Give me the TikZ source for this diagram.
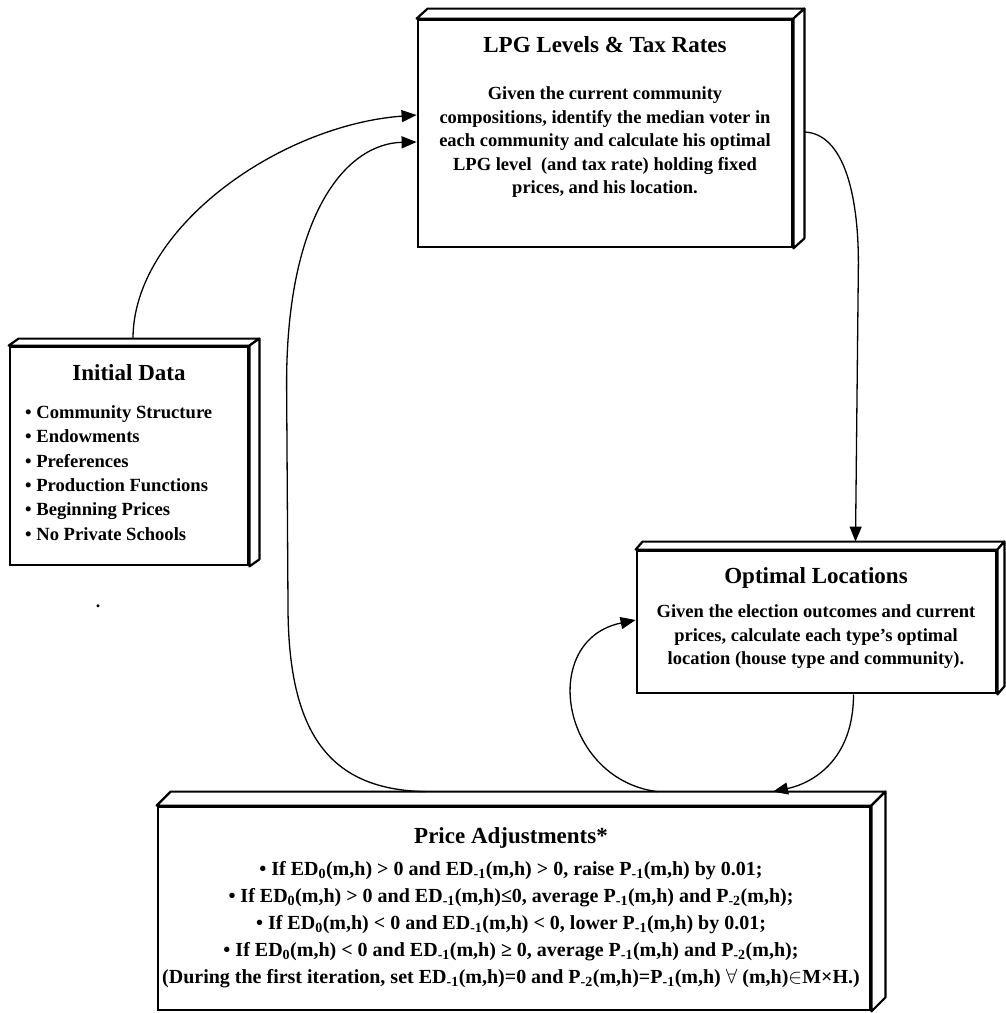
\documentclass[tikz,border=0pt]{standalone}
\usepackage{fontspec}
\setmainfont{Liberation Serif}
\usetikzlibrary{arrows.meta,calc}
\newcommand\threedbox[3]{%
  \draw[face] (#1.north west) -- ($(#1.north west)+(#2,-#3)$) -- ($(#1.north east)+(#2,-#3)$) -- (#1.north east) -- cycle;
  \draw[face] (#1.north east) -- ($(#1.north east)+(#2,-#3)$) -- ($(#1.south east)+(#2,-#3)$) -- (#1.south east) -- cycle;}
\begin{document}
\begin{tikzpicture}[x=1pt,y=-1pt,
  box/.style={draw, line width=2.8pt, fill=white, inner sep=0pt},
  face/.style={draw, line width=2.2pt, fill=white, line join=round},
  conn/.style={line width=1.3pt, -{Triangle[length=15pt,width=12pt]}},
  ttl/.style={font=\bfseries\fontsize{23}{26}\selectfont},
  bodyb/.style={font=\bfseries\fontsize{18.5}{23.5}\selectfont, align=center, inner sep=0pt},
  bull/.style={font=\bfseries\fontsize{18.6}{24.4}\selectfont, align=left, inner sep=0pt},
  prl/.style={font=\bfseries\fontsize{20}{27}\selectfont, align=center, inner sep=0pt},
]
\useasboundingbox (0,0) rectangle (1005,1013);

% boxes
\node[box, minimum width=374pt, minimum height=227pt] (lpg) at (605,133.5) {};
\threedbox{lpg}{11}{10}
\node[box, minimum width=238pt, minimum height=218pt] (init) at (129,456) {};
\threedbox{init}{10}{7}
\node[box, minimum width=359pt, minimum height=142pt] (opt) at (816.5,622) {};
\threedbox{opt}{7}{8}
\node[box, minimum width=712pt, minimum height=203pt] (price) at (514,908.5) {};
\threedbox{price}{14}{14}

% texts
\node[ttl] (lpgT) at (605,45) {LPG Levels \& Tax Rates};
\node[bodyb] (lpgB) at (605,142.5) {Given the current community\\compositions, identify the median voter in\\each community and calculate his optimal\\LPG level \ (and tax rate) holding fixed\\prices, and his location.};

\node[ttl] (initT) at (129,373) {Initial Data};
\node[bull, anchor=west] (initB) at (25,473) {• Community Structure\\• Endowments\\• Preferences\\• Production Functions\\• Beginning Prices\\• No Private Schools};
\node[font=\bfseries\fontsize{18}{20}\selectfont] (dot) at (98,606) {.};

\node[ttl] (optT) at (816,578) {Optimal Locations};
\node[bodyb] (optB) at (816,637) {Given the election outcomes and current\\prices, calculate each type's optimal\\location (house type and community).};

\node[ttl] (priceT) at (511,838) {Price Adjustments*};
\node[prl] (priceB) at (511,925) {• If ED\textsubscript{0}(m,h) > 0 and ED\textsubscript{-1}(m,h) > 0, raise P\textsubscript{-1}(m,h) by 0.01;\\
• If ED\textsubscript{0}(m,h) > 0 and ED\textsubscript{-1}(m,h)≤0, average P\textsubscript{-1}(m,h) and P\textsubscript{-2}(m,h);\\
• If ED\textsubscript{0}(m,h) < 0 and ED\textsubscript{-1}(m,h) < 0, lower P\textsubscript{-1}(m,h) by 0.01;\\
• If ED\textsubscript{0}(m,h) < 0 and ED\textsubscript{-1}(m,h) ≥ 0, average P\textsubscript{-1}(m,h) and P\textsubscript{-2}(m,h);\\
(During the first iteration, set ED\textsubscript{-1}(m,h)=0 and P\textsubscript{-2}(m,h)=P\textsubscript{-1}(m,h) $\forall$ (m,h)$\in$M×H.)};

% connectors
\draw[conn] ($(init.north)+(4,-7)$) .. controls ($(init.north)+(4,-117)$) and ($(lpg.west)+(-138,-8)$) .. ([yshift=18.5pt]lpg.west);
\draw[conn] ($(price.north)+(-89,-14)$) .. controls ($(price.north)+(-183,-16)$) and ($(price.north)+(-226,-70)$) .. ($(price.north)+(-226,-200)$)
  -- ($(lpg.west)+(-130,250)$) .. controls ($(lpg.west)+(-130,80)$) and ($(lpg.west)+(-70,10)$) .. ([yshift=-8.5pt]lpg.west);
\draw[conn] ($(lpg.east)+(11,-1.5)$) .. controls ($(lpg.east)+(50,0)$) and ($(lpg.east)+(65,60)$) .. ($(lpg.east)+(65,130)$) -- ($(opt.north)+(39,-8)$);
\draw[conn] ($(opt.south)+(37,0)$) .. controls ($(opt.south)+(37,67)$) and ($(price.north)+(297,-22)$) .. ($(price.north)+(259,-14)$);
\draw[conn] ($(price.north)+(143,-14)$) .. controls ($(price.north)+(46,-27)$) and ($(opt.west)+(-97,18)$) .. ([yshift=2pt]opt.west);
\end{tikzpicture}
\end{document}
